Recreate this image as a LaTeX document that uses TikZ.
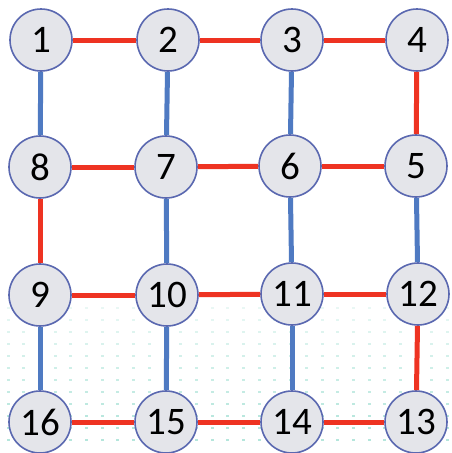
\documentclass[tikz,border=0pt]{standalone}
\usepackage{fontspec}
\setmainfont{Carlito}
\definecolor{nodefill}{HTML}{E4E5EA}
\definecolor{nodeborder}{HTML}{5A68B0}
\definecolor{redline}{HTML}{EE3322}
\definecolor{blueline}{HTML}{4F7AC2}
\definecolor{dotc}{HTML}{B5E6DC}
\begin{document}
\begin{tikzpicture}[x=1pt,y=-1pt,
  vtx/.style={circle,draw=nodeborder,line width=1.6pt,fill=nodefill,minimum size=62pt,inner sep=0pt,font=\fontsize{39}{39}\selectfont},
  redE/.style={draw=redline,line width=5pt},
  blueE/.style={draw=blueline,line width=5pt}]
\useasboundingbox (0,0) rectangle (451,453);
% faint dotted background
\foreach \j in {308,320,...,451} {
  \pgfmathsetmacro{\op}{min(1,0.3+0.006*(\j-308))}
  \foreach \i in {8,23.7,...,451} {
    \fill[dotc,opacity=\op] (\i-1.5,\j-1.3) rectangle (\i+1.5,\j+1.3);
  }
}
\node[vtx] (n1) at (41,40) {1};
\node[vtx] (n2) at (168,40) {2};
\node[vtx] (n3) at (292,40) {3};
\node[vtx] (n4) at (417,40) {4};
\node[vtx] (n8) at (40,167) {8};
\node[vtx] (n7) at (166,167) {7};
\node[vtx] (n6) at (290,166) {6};
\node[vtx] (n5) at (416,166) {5};
\node[vtx] (n9) at (40,295) {9};
\node[vtx] (n10) at (167,295) {10};
\node[vtx] (n11) at (292,294) {11};
\node[vtx] (n12) at (418,294) {12};
\node[vtx] (n16) at (40,422) {16};
\node[vtx] (n15) at (166,422) {15};
\node[vtx] (n14) at (292,422) {14};
\node[vtx] (n13) at (416,422) {13};
\path[redE] (n1) -- (n2);
\path[redE] (n2) -- (n3);
\path[redE] (n3) -- (n4);
\path[redE] (n4) -- (n5);
\path[blueE] (n1) -- (n8);
\path[blueE] (n2) -- (n7);
\path[blueE] (n3) -- (n6);
\path[redE] (n8) -- (n7);
\path[redE] (n7) -- (n6);
\path[redE] (n6) -- (n5);
\path[redE] (n8) -- (n9);
\path[blueE] (n7) -- (n10);
\path[blueE] (n6) -- (n11);
\path[blueE] (n5) -- (n12);
\path[redE] (n9) -- (n10);
\path[redE] (n10) -- (n11);
\path[redE] (n11) -- (n12);
\path[blueE] (n9) -- (n16);
\path[blueE] (n10) -- (n15);
\path[blueE] (n11) -- (n14);
\path[redE] (n12) -- (n13);
\path[redE] (n16) -- (n15);
\path[redE] (n15) -- (n14);
\path[redE] (n14) -- (n13);
\end{tikzpicture}
\end{document}
